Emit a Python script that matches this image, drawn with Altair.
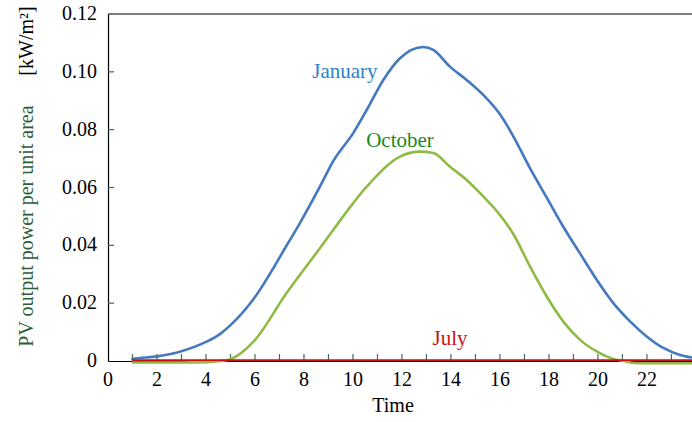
import altair as alt
import pandas as pd

# ---- data ----
jan_hours = [0.95, 1, 2, 3, 4, 4.57, 5, 5.92, 7.31, 7.84, 8.65, 9.2, 10.01, 10.56, 11.24, 11.92,
             12.87, 13.28, 13.96, 14.64, 15.32, 16.0, 16.54, 17.22, 17.91, 18.58, 19.27,
             19.95, 20.63, 21.31, 21.99, 22.67, 23.35, 23.84]
jan_power = [0.0006, 0.0007, 0.0016, 0.0034, 0.0066, 0.0093, 0.0124, 0.0212, 0.0402, 0.0478, 0.0603,
             0.0692, 0.0788, 0.0868, 0.0972, 0.1047, 0.1086, 0.1076, 0.1018, 0.0972, 0.0920,
             0.0853, 0.0778, 0.0668, 0.0565, 0.0465, 0.0372, 0.0281, 0.0200, 0.0137, 0.0085,
             0.0045, 0.0021, 0.0012]

oct_hours = [0.97, 2, 3, 4, 4.6, 5.02, 5.93, 7.29, 8.65, 9.2, 10.56, 11.92, 12.73, 13.28,
             13.96, 14.64, 15.32, 16.0, 16.54, 17.22, 17.91, 18.58, 19.27, 19.95, 20.63,
             21.04, 21.5, 22, 23, 23.84]
oct_power = [-0.0005, -0.0005, -0.0005, -0.0004, 0.0, 0.0007, 0.0066, 0.0235, 0.0390, 0.0454,
             0.0603, 0.0707, 0.0724, 0.0719, 0.0672, 0.0626, 0.0569, 0.0505, 0.0440, 0.0328,
             0.0223, 0.0137, 0.0073, 0.0033, 0.0007, 0.0, -0.0007, -0.0008, -0.0008, -0.0008]

jul_hours = [1, 2, 3, 4, 5, 6, 7, 8, 9, 10, 11, 12, 13, 14, 15, 16, 17, 18, 19, 20, 21, 22, 23, 23.84]
jul_power = [0.0003, 0.0003, 0.0003, 0.0003, 0.0003, 0.0003, 0.0003, 0.0003, 0.0003, 0.0003,
             0.0003, 0.0003, 0.0003, 0.0003, 0.0003, 0.0003, 0.0003, 0.0003, 0.0003, 0.0003,
             0.0003, 0.0003, 0.0003, 0.0003]

series_names = ["January", "October", "July"]
label_hours = [9.67, 11.92, 13.96]
label_power = [0.0979, 0.0740, 0.0056]
label_colors = ["#2e82c6", "#1a8a1a", "#cc1111"]

x_label_values = [0, 2, 4, 6, 8, 10, 12, 14, 16, 18, 20, 22]
x_label_texts = ["0", "2", "4", "6", "8", "10", "12", "14", "16", "18", "20", "22"]
x_tick_hours = [1, 2, 3, 4, 5, 6, 7, 8, 9, 10, 11, 12, 13, 14, 15, 16, 17, 18, 19, 20, 21, 22, 23]
y_label_values = [0, 0.02, 0.04, 0.06, 0.08, 0.10, 0.12]
y_label_texts = ["0", "0.02", "0.04", "0.06", "0.08", "0.10", "0.12"]
y_tick_values = [0.02, 0.04, 0.06, 0.08, 0.10]

W, H = 584, 347
FONT = "Liberation Serif"

x_scale = alt.Scale(domain=[0, 23.84], nice=False, zero=False)
y_scale = alt.Scale(domain=[0, 0.12], nice=False, zero=False)

x_axis = alt.Axis(values=x_label_values, ticks=False, labels=False, grid=False, title=None,
                  domainColor="black", domainWidth=1.2)
y_axis = alt.Axis(values=y_label_values, ticks=False, labels=False, grid=False, title=None,
                  domainColor="black", domainWidth=1.2)


def X():
    return alt.X("x:Q", scale=x_scale, axis=x_axis)


def Y():
    return alt.Y("y:Q", scale=y_scale, axis=y_axis)


jan_df = pd.DataFrame({"x": jan_hours, "y": jan_power})
oct_df = pd.DataFrame({"x": oct_hours, "y": oct_power})
jul_df = pd.DataFrame({"x": jul_hours, "y": jul_power})
lab_df = pd.DataFrame({"x": label_hours, "y": label_power, "name": series_names, "c": label_colors})
xt_df = pd.DataFrame({"x": x_tick_hours})
yt_df = pd.DataFrame({"y": y_tick_values})
xl_df = pd.DataFrame({"x": x_label_values, "t": x_label_texts})
yl_df = pd.DataFrame({"y": y_label_values, "t": y_label_texts})
one = pd.DataFrame({"a": [0]})

jan = alt.Chart(jan_df).mark_line(color="#4479c0", strokeWidth=2.6, interpolate="monotone").encode(x=X(), y=Y())
octo = alt.Chart(oct_df).mark_line(color="#8fbb45", strokeWidth=2.6, interpolate="monotone").encode(x=X(), y=Y())
jul = alt.Chart(jul_df).mark_line(color="#cc1010", strokeWidth=1.6).encode(x=X(), y=Y())

labels = alt.Chart(lab_df).mark_text(font=FONT, fontSize=21, align="center", baseline="alphabetic").encode(
    x=X(), y=Y(), text="name:N", color=alt.Color("c:N", scale=None))

xticks = alt.Chart(xt_df).mark_rule(color="#3f6b50", strokeWidth=1.2).encode(
    x=X(), y=alt.value(H - 7), y2=alt.value(H))
yticks = alt.Chart(yt_df).mark_rule(color="#3f6b50", strokeWidth=1.2).encode(
    y=Y(), x=alt.value(0), x2=alt.value(6))

xlabels = alt.Chart(xl_df).mark_text(font=FONT, fontSize=20, align="center", baseline="alphabetic",
                                     color="black").encode(x=X(), y=alt.value(H + 25), text="t:N")
ylabels = alt.Chart(yl_df).mark_text(font=FONT, fontSize=20, align="right", baseline="middle",
                                     color="black").encode(y=Y(), x=alt.value(-11), text="t:N")

top_border = alt.Chart(one).mark_rule(color="black", strokeWidth=1.2).encode(
    x=alt.value(0), x2=alt.value(W), y=alt.value(0))

title_green = alt.Chart(one).mark_text(font=FONT, fontSize=20, angle=270, align="center",
                                       baseline="alphabetic", color="#2d5e3a",
                                       text="PV output power per unit area").encode(
    x=alt.value(-75), y=alt.value(212))
title_black = alt.Chart(one).mark_text(font=FONT, fontSize=20, angle=270, align="center",
                                       baseline="alphabetic", color="black",
                                       text="[kW/m²]").encode(
    x=alt.value(-75), y=alt.value(27))
title_time = alt.Chart(one).mark_text(font=FONT, fontSize=20, align="center",
                                      baseline="alphabetic", color="black", text="Time").encode(
    x=alt.value(285), y=alt.value(398))

chart = alt.layer(
    xticks, yticks, jan, octo, jul, labels, xlabels, ylabels, top_border,
    title_green, title_black, title_time
).properties(
    width=W, height=H,
    autosize=alt.AutoSizeParams(type="none"),
    padding={"left": 108, "top": 14, "right": 0, "bottom": 61},
    background="white",
).configure_view(stroke=None)

chart.save("out.html", embed_options={"renderer": "svg", "actions": False})
